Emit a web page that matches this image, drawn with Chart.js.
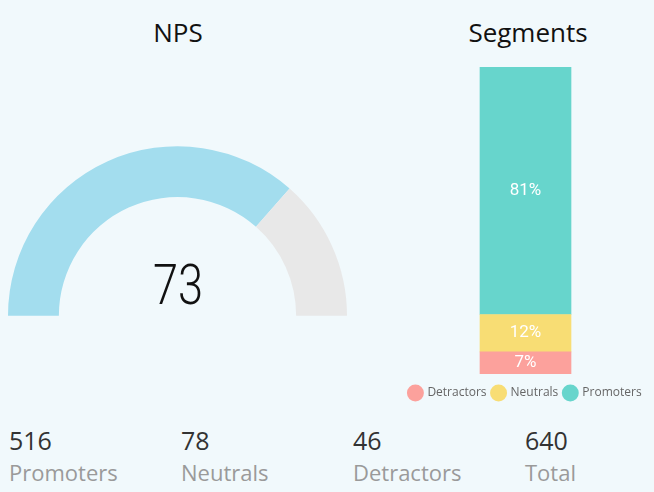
<!DOCTYPE html>
<html><head><meta charset="utf-8">
<script src="https://cdn.jsdelivr.net/npm/chart.js@4/dist/chart.umd.min.js"></script>
<style>
html,body{margin:0;padding:0;background:#f1f9fc;}
body{width:654px;height:492px;position:relative;overflow:hidden;font-family:"Open Sans",sans-serif;}
.abs{position:absolute;}
.title{font-size:26px;color:#111;top:14px;text-align:center;width:200px;}
.num{font-size:25px;color:#333;top:423px;}
.lab{font-size:22px;color:#9a9a9a;top:457px;}
#gaugeVal{font-family:"Roboto",sans-serif;font-weight:300;font-size:55px;color:#111;left:78px;width:200px;text-align:center;top:253px;transform:scaleX(0.82);}
</style></head>
<body>
<div class="abs title" id="t1" style="left:78px">NPS</div>
<div class="abs title" id="t2" style="left:428px">Segments</div>
<div class="abs" style="left:8px;top:146px;width:339px;height:170px"><canvas id="gauge"></canvas></div>
<div class="abs" id="gaugeVal"></div>
<div class="abs" style="left:400px;top:59px;width:251px;height:350px"><canvas id="bar"></canvas></div>
<div id="stats"></div>
<script>
const segmentNames = ["Detractors", "Neutrals", "Promoters"];
const segmentCounts = [46, 78, 516];
const segmentColors = ["#fca19c", "#f8dd74", "#67d5cc"];
const npsScore = [73];
const npsMax = [100];
const statLabels = ["Promoters", "Neutrals", "Detractors", "Total"];
const statValues = [516, 78, 46, 640];

const total = segmentCounts.reduce((a,b)=>a+b,0);

// stats
const statsDiv = document.getElementById('stats');
statLabels.forEach((l,i)=>{
  const x = 9 + i*172;
  const n = document.createElement('div'); n.className='abs num'; n.style.left=x+'px'; n.textContent=statValues[i];
  const t = document.createElement('div'); t.className='abs lab'; t.style.left=x+'px'; t.textContent=l;
  statsDiv.appendChild(n); statsDiv.appendChild(t);
});
document.getElementById('gaugeVal').textContent = npsScore[0];

new Chart(document.getElementById('gauge'), {
  type: 'doughnut',
  data: { labels: ['NPS',''], datasets: [{ data: [npsScore[0], npsMax[0]-npsScore[0]], backgroundColor: ['#a3ddee','#e8e8e8'], borderWidth: 0 }] },
  options: {
    responsive: true, maintainAspectRatio: false, animation: false,
    rotation: -90, circumference: 180, cutout: '70%',
    layout: { padding: 0 },
    plugins: { legend: { display: false }, tooltip: { enabled: false } }
  }
});

const labelPlugin = {
  id: 'segLabels',
  afterDatasetsDraw(chart) {
    const ctx = chart.ctx;
    ctx.save();
    ctx.font = '400 17px Roboto, sans-serif';
    ctx.fillStyle = '#ffffff';
    ctx.textAlign = 'center'; ctx.textBaseline = 'middle';
    chart.data.datasets.forEach((ds, i) => {
      const meta = chart.getDatasetMeta(i);
      meta.data.forEach((el, j) => {
        const v = ds.data[j];
        const y = (el.y + el.base) / 2;
        ctx.fillText(Math.round(v / total * 100) + '%', el.x, y);
      });
    });
    ctx.restore();
  }
};

new Chart(document.getElementById('bar'), {
  type: 'bar',
  data: {
    labels: ['Segments'],
    datasets: segmentNames.map((n,i)=>({ label: n, data: [segmentCounts[i]], backgroundColor: segmentColors[i], borderWidth: 0, barThickness: 91 }))
  },
  options: {
    responsive: true, maintainAspectRatio: false, animation: false,
    layout: { padding: { top: 8, left: 0, right: 0, bottom: 0 } },
    scales: {
      x: { stacked: true, display: false },
      y: { stacked: true, display: false, min: 0, max: total }
    },
    plugins: {
      tooltip: { enabled: false },
      legend: {
        position: 'bottom',
        title: { display: true, text: '', font: { size: 1, lineHeight: 1 }, padding: { top: 6, bottom: 0 } },
        labels: { usePointStyle: true, pointStyle: 'circle', boxWidth: 12, boxHeight: 12, padding: 6, color: '#666', font: { family: 'Open Sans', size: 12 } }
      }
    }
  },
  plugins: [labelPlugin]
});
</script>
</body></html>
